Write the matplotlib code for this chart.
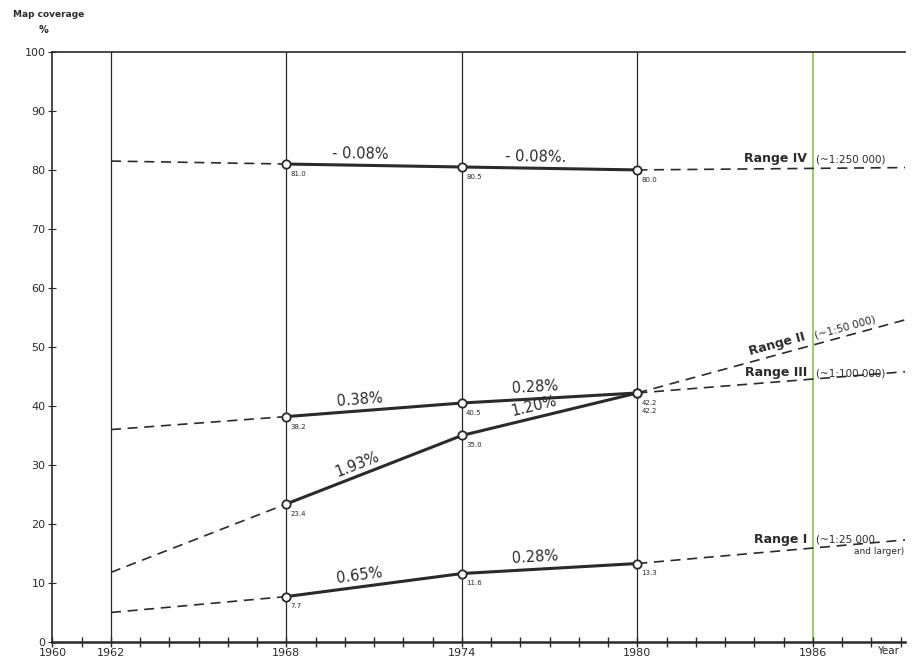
import matplotlib.pyplot as plt
import numpy as np

# survey years and coverage (%) per scale range
YEARS = [1968, 1974, 1980]
RANGE_I = [7.7, 11.6, 13.3]
RANGE_II = [23.4, 35.0, 42.2]
RANGE_III = [38.2, 40.5, 42.2]
RANGE_IV = [81.0, 80.5, 80.0]

# dashed back/forward projections: (1962 value, end-of-axis value)
PROJ_I = [5.0, 17.3]
PROJ_II = [11.8, 54.6]
PROJ_III = [36.0, 45.8]
PROJ_IV = [81.5, 80.4]

RATE_I = ['0.65%', '0.28%']
RATE_II = ['1.93%', '1.20%']
RATE_III = ['0.38%', '0.28%']
RATE_IV = ['- 0.08%', '- 0.08%.']

LABELS_I = ['7.7', '11.6', '13.3']
LABELS_II = ['23.4', '35.0', '42.2']
LABELS_III = ['38.2', '40.5', '42.2']
LABELS_IV = ['81.0', '80.5', '80.0']

XTICKS = [1960, 1962, 1968, 1974, 1980, 1986]
X_END = 1989.16
INK = '#2a2a2a'

plt.rcParams['font.family'] = 'DejaVu Sans'
fig = plt.figure(figsize=(9.13, 6.63), dpi=100)
ax = fig.add_axes([0.0575, 0.0317, 0.934, 0.89])
ax.set_xlim(1960, X_END)
ax.set_ylim(0, 100)

# frame
ax.spines['right'].set_visible(False)
for s in ['left', 'bottom', 'top']:
    ax.spines[s].set_color(INK)
    ax.spines[s].set_linewidth(1.2)
ax.spines['bottom'].set_linewidth(1.8)

ax.set_yticks(range(0, 101, 10))
ax.set_xticks(XTICKS)
ax.set_xticks(range(1960, 1990), minor=True)
ax.tick_params(axis='both', which='both', direction='inout', color=INK,
               labelsize=8, labelcolor=INK, pad=2)
ax.tick_params(axis='y', length=6)
ax.tick_params(axis='x', which='both', length=7, width=1)
ax.tick_params(axis='x', pad=1)

# vertical grid lines
for yr in [1962, 1968, 1974, 1980]:
    ax.axvline(yr, color=INK, lw=0.9, zorder=1)
ax.axvline(1986, color='#8cc63f', lw=1.2, zorder=1)

fig.canvas.draw()


def seg_angle(x0, y0, x1, y1):
    p0 = ax.transData.transform((x0, y0))
    p1 = ax.transData.transform((x1, y1))
    return np.degrees(np.arctan2(p1[1] - p0[1], p1[0] - p0[0]))


def draw_range(vals, proj, rates, labels, last_dy=-5):
    ax.plot([1962, YEARS[0]], [proj[0], vals[0]], color=INK, lw=1.2,
            ls=(0, (6, 4)), zorder=2)
    ax.plot([YEARS[-1], X_END], [vals[-1], proj[1]], color=INK, lw=1.2,
            ls=(0, (6, 4)), zorder=2)
    ax.plot(YEARS, vals, color=INK, lw=2.2, zorder=3)
    ax.plot(YEARS, vals, 'o', ms=6, mfc='white', mec=INK, mew=1.3, zorder=4)
    for i in range(len(YEARS) - 1):
        x0, x1 = YEARS[i], YEARS[i + 1]
        y0, y1 = vals[i], vals[i + 1]
        t = 0.42
        xm = x0 + t * (x1 - x0)
        ym = y0 + t * (y1 - y0)
        ang = seg_angle(x0, y0, x1, y1)
        ax.annotate(rates[i], (xm, ym), xytext=(0, 3), textcoords='offset points',
                    rotation=ang, rotation_mode='anchor', ha='center', va='bottom',
                    fontsize=10.5, color=INK)
    for j, (x, y, lab) in enumerate(zip(YEARS, vals, labels)):
        dy = last_dy if j == len(YEARS) - 1 else -5
        ax.annotate(lab, (x, y), xytext=(3, dy), textcoords='offset points',
                    ha='left', va='top', fontsize=5, color=INK)


draw_range(RANGE_IV, PROJ_IV, RATE_IV, LABELS_IV)
draw_range(RANGE_III, PROJ_III, RATE_III, LABELS_III)
draw_range(RANGE_II, PROJ_II, RATE_II, LABELS_II, last_dy=-11)
draw_range(RANGE_I, PROJ_I, RATE_I, LABELS_I)

# annotate ranges near the right end of the projections
ang2 = seg_angle(1980, RANGE_II[-1], X_END, PROJ_II[1])


def on_proj(vals, proj, x):
    return vals[-1] + (proj[1] - vals[-1]) * (x - 1980) / (X_END - 1980)


ax.text(1985.8, on_proj(RANGE_IV, PROJ_IV, 1985.8) + 0.6, 'Range IV', ha='right',
        va='bottom', fontsize=9, fontweight='bold', color=INK)
ax.text(1986.1, on_proj(RANGE_IV, PROJ_IV, 1986.1) + 0.6, '(~1:250 000)', ha='left',
        va='bottom', fontsize=7.5, color=INK)

ax.text(1985.8, on_proj(RANGE_II, PROJ_II, 1985.8) + 0.6, 'Range II', ha='right',
        va='bottom', fontsize=9, fontweight='bold', color=INK,
        rotation=ang2, rotation_mode='anchor')
ax.text(1986.1, on_proj(RANGE_II, PROJ_II, 1986.1) + 0.6, '(~1:50 000)', ha='left',
        va='bottom', fontsize=7.5, color=INK, rotation=ang2, rotation_mode='anchor')

ax.text(1985.8, 44.6, 'Range III', ha='right', va='bottom', fontsize=9,
        fontweight='bold', color=INK)
ax.text(1986.1, 44.6, '(~1:100 000)', ha='left', va='bottom', fontsize=7.5, color=INK)

ax.text(1985.8, 16.2, 'Range I', ha='right', va='bottom', fontsize=9,
        fontweight='bold', color=INK)
ax.text(1986.1, 16.6, '(~1:25 000', ha='left', va='bottom', fontsize=7.5, color=INK)
ax.text(X_END - 0.05, 16.1, 'and larger)', ha='right', va='top', fontsize=6.5,
        color=INK, clip_on=False)

# axis captions
fig.text(0.014, 0.978, 'Map coverage', ha='left', va='center', fontsize=6.5,
         fontweight='bold', color=INK)
fig.text(0.042, 0.955, '%', ha='left', va='center', fontsize=7, fontweight='bold',
         color=INK)
fig.text(0.985, 0.018, 'Year', ha='right', va='center', fontsize=7.5, color=INK)

fig.savefig('out.png', dpi=100, facecolor='white')
